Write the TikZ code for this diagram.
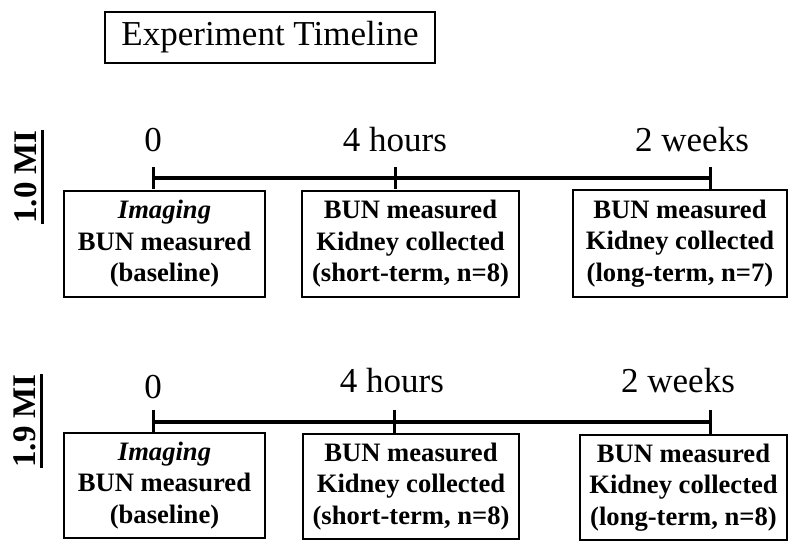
\documentclass[tikz,border=0pt]{standalone}
\usepackage{fontspec}
\setmainfont{Liberation Serif}
\newcommand\bigtxt{\fontsize{35}{40}\selectfont}
\newcommand\boxtxt{\fontsize{26.6}{31.5}\selectfont\bfseries}
\newcommand\sidetxt{\fontsize{33}{36}\selectfont\bfseries}
\tikzset{
  evbox/.style={draw, line width=1.5pt, align=center, inner sep=0pt, font=\boxtxt},
  tlabel/.style={anchor=base, inner sep=0pt, font=\bigtxt},
  tline/.style={line width=4pt},
  tmark/.style={line width=3pt},
  side/.style={rotate=90, inner sep=0pt, font=\sidetxt},
  uline/.style={line width=2.5pt}
}
\begin{document}
\begin{tikzpicture}[x=1pt,y=-1pt]
\useasboundingbox (0,0) rectangle (800,553);
% title
\node[draw, line width=2pt, minimum width=330pt, minimum height=51pt, inner sep=0pt, font=\bigtxt] (title) at (270,37.5) {Experiment Timeline};

% ---- row 1 ----
\node[side] (m1) at (26,177) {1.0 MI};
\draw[uline] ([xshift=5pt]m1.south west) -- ([xshift=5pt]m1.south east);
\coordinate (a0) at (153,178);
\coordinate (a1) at (395,178);
\coordinate (a2) at (710,178);
\draw[tline] (a0) -- (a2);
\foreach \c in {a0,a1,a2} \draw[tmark] ([yshift=11pt]\c) -- ([yshift=-11pt]\c);
\node[tlabel] (l10) at (153,152) {0};
\node[tlabel] (l11) at (395,152) {4 hours};
\node[tlabel] (l12) at (692,152) {2 weeks};
\node[evbox, minimum width=201pt, minimum height=106pt] (b10) at (164.5,244) {\textit{Imaging}\\BUN measured\\(baseline)};
\node[evbox, minimum width=217pt, minimum height=106pt] (b11) at (410.5,244) {BUN measured\\Kidney collected\\(short-term, n=8)};
\node[evbox, minimum width=214pt, minimum height=107pt] (b12) at (680,243.5) {BUN measured\\Kidney collected\\(long-term, n=7)};

% ---- row 2 ----
\node[side] (m2) at (25,421) {1.9 MI};
\draw[uline] ([xshift=5pt]m2.south west) -- ([xshift=5pt]m2.south east);
\coordinate (c0) at (153,422);
\coordinate (c1) at (394,422);
\coordinate (c2) at (710,422);
\draw[tline] (c0) -- (c2);
\foreach \c in {c0,c1,c2} \draw[tmark] ([yshift=12pt]\c) -- ([yshift=-12pt]\c);
\node[tlabel] (l20) at (153,398) {0};
\node[tlabel] (l21) at (392,392) {4 hours};
\node[tlabel] (l22) at (678,392) {2 weeks};
\node[evbox, minimum width=201pt, minimum height=105pt] (b20) at (164.5,485.5) {\textit{Imaging}\\BUN measured\\(baseline)};
\node[evbox, minimum width=216pt, minimum height=105pt] (b21) at (411,486.5) {BUN measured\\Kidney collected\\(short-term, n=8)};
\node[evbox, minimum width=207pt, minimum height=105pt] (b22) at (683.5,487.5) {BUN measured\\Kidney collected\\(long-term, n=8)};
\end{tikzpicture}
\end{document}
